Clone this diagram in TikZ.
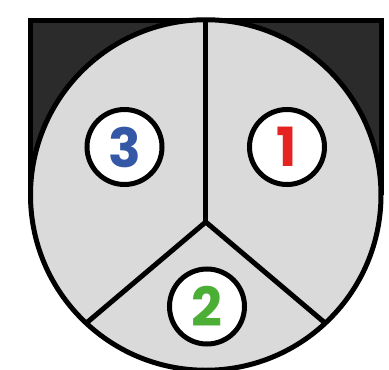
\documentclass[tikz,border=0pt]{standalone}
\usepackage{fontspec}
\newfontfamily\pop{Poppins}
\definecolor{darkfill}{HTML}{2B2B2B}
\definecolor{lightfill}{HTML}{DADADA}
\definecolor{numblue}{HTML}{3457A6}
\definecolor{numred}{HTML}{E52421}
\definecolor{numgreen}{HTML}{4BAE35}
\begin{document}
\begin{tikzpicture}[x=1pt,y=1pt,line width=5pt,
  disk/.style={circle,draw=black,fill=lightfill,minimum size=350.5pt,inner sep=0pt,outer sep=0pt},
  badge/.style={circle,draw=black,fill=white,minimum size=75pt,inner sep=0pt,outer sep=0pt,
    font=\pop\bfseries\fontsize{54}{54}\selectfont}]
\useasboundingbox (0,0) rectangle (389,-370);
\fill[darkfill] (30.5,-195) -- (30.5,-20) -- (381,-20) -- (381,-195)
  arc[start angle=0,end angle=-180,radius=175.25] -- cycle;
\draw[line join=miter] (30.5,-195) -- (30.5,-20) -- (381,-20) -- (381,-195);
\node[disk] (disk) at (205.75,-195) {};
\coordinate (j) at (205.75,-222);
\draw (disk.north) -- (j);
\draw (j) -- (disk.-133);
\draw (j) -- (disk.-47);
\node[badge,text=numblue] (n3) at (124.5,-147) {3};
\node[badge,text=numred] (n1) at (287,-147) {1};
\node[badge,text=numgreen] (n2) at (207,-306.5) {2};
\end{tikzpicture}
\end{document}
